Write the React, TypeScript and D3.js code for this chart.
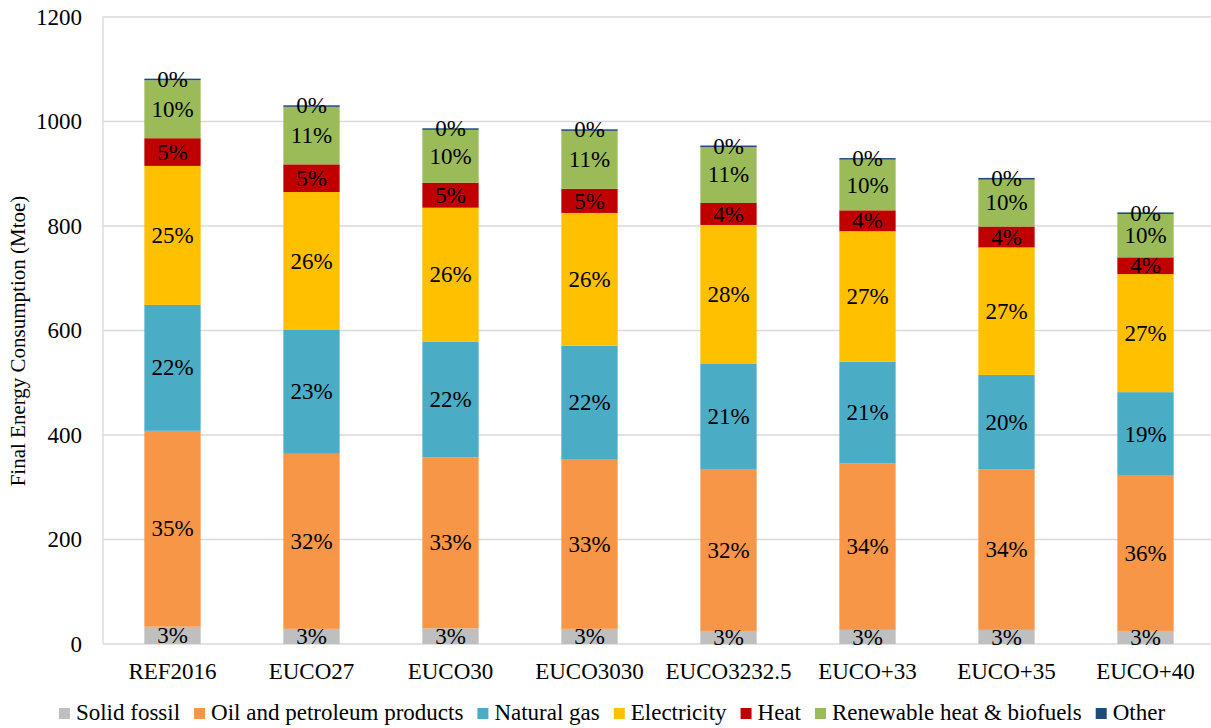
import React from 'react';
import * as d3 from 'd3';

const scenarios = ['REF2016', 'EUCO27', 'EUCO30', 'EUCO3030', 'EUCO3232.5', 'EUCO+33', 'EUCO+35', 'EUCO+40'];
const fuels = ['Solid fossil', 'Oil and petroleum products', 'Natural gas', 'Electricity', 'Heat', 'Renewable heat & biofuels', 'Other'];
const fuelColors = ['#BFBFBF', '#F79646', '#4BACC6', '#FFC000', '#C00000', '#9BBB59', '#1F497D'];

// Mtoe per scenario
const solidFossil = [33, 29, 30, 29, 25, 27, 27, 25];
const oilProducts = [375, 335, 327, 325, 310, 319, 307, 297];
const naturalGas = [241, 237, 222, 217, 202, 194, 181, 160];
const electricity = [266, 264, 256, 254, 265, 250, 244, 226];
const heat = [53, 53, 48, 46, 42, 40, 40, 32];
const renewables = [111, 111, 102, 112, 108, 97, 91, 83];
const other = [3, 2, 2, 2, 2, 3, 2, 3];

const yTicks = [0, 200, 400, 600, 800, 1000, 1200];

const FONT = 'Liberation Serif';
const FS = 23;

const width = 1211, height = 728;
const left = 103, right = 1215, top = 17, bottom = 644;

const measure = (() => {
  let ctx: CanvasRenderingContext2D | null = null;
  return (txt: string, size: number) => {
    if (!ctx) ctx = document.createElement('canvas').getContext('2d');
    if (!ctx) return txt.length * size * 0.45;
    ctx.font = `${size}px "${FONT}"`;
    return ctx.measureText(txt).width;
  };
})();

const App = () => {
  const series = [solidFossil, oilProducts, naturalGas, electricity, heat, renewables, other];
  const rows = scenarios.map((s, i) => {
    const r: any = { scenario: s };
    fuels.forEach((f, j) => { r[f] = series[j][i]; });
    return r;
  });
  const totals = scenarios.map((s, i) => d3.sum(series, (a) => a[i]));
  const stacked = d3.stack().keys(fuels)(rows);

  const x = d3.scaleBand().domain(scenarios).range([left, right]).paddingInner(0.595).paddingOuter(0.2975);
  const y = d3.scaleLinear().domain([0, 1200]).range([bottom, top]);

  // legend layout, centred under the chart
  const sq = 11, gapIn = 6, gapOut = 14;
  const widths = fuels.map((f) => measure(f, FS));
  const total = d3.sum(widths) + fuels.length * (sq + gapIn) + (fuels.length - 1) * gapOut;
  let lx = 612 - total / 2;
  const legendItems = fuels.map((f, i) => {
    const item = { f, i, x: lx };
    lx += sq + gapIn + widths[i] + gapOut;
    return item;
  });

  const txt = { fontFamily: FONT, fontSize: FS + 'px' };

  return (
    <svg width={width} height={height} style={{ position: 'absolute', left: 0, top: 0, background: '#fff', fontFamily: FONT }}>
      {yTicks.map((t) => (
        <line key={'g' + t} x1={left} x2={width} y1={y(t)} y2={y(t)} stroke="#D9D9D9" strokeWidth={1.3} />
      ))}
      <line x1={left} x2={left} y1={top} y2={bottom} stroke="#D9D9D9" strokeWidth={1.3} />
      {yTicks.map((t) => (
        <text key={'t' + t} x={82} y={y(t)} dy="0.33em" textAnchor="end" style={txt} fill="#000">
          {t}
        </text>
      ))}
      <text
        transform={`translate(25,341) rotate(-90)`}
        textAnchor="middle"
        style={{ fontFamily: FONT, fontSize: '21px' }}
        fill="#000"
      >
        Final Energy Consumption (Mtoe)
      </text>

      {stacked.map((layer, li) => (
        <g key={layer.key} fill={fuelColors[li]}>
          {layer.map((d: any) => (
            <rect
              key={d.data.scenario}
              x={x(d.data.scenario)}
              width={x.bandwidth()}
              y={y(d[1])}
              height={Math.max(y(d[0]) - y(d[1]), 1.5)}
            />
          ))}
        </g>
      ))}

      {stacked.map((layer) => (
        <g key={'l' + layer.key}>
          {layer.map((d: any, i) => (
            <text
              key={d.data.scenario}
              x={x(d.data.scenario)! + x.bandwidth() / 2}
              y={y((d[0] + d[1]) / 2)}
              dy="0.33em"
              textAnchor="middle"
              style={txt}
              fill="#000"
            >
              {Math.round(((d[1] - d[0]) / totals[i]) * 100) + '%'}
            </text>
          ))}
        </g>
      ))}

      {scenarios.map((s) => (
        <text key={'c' + s} x={x(s)! + x.bandwidth() / 2} y={679} textAnchor="middle" style={txt} fill="#000">
          {s}
        </text>
      ))}

      {legendItems.map((it) => (
        <g key={'lg' + it.f}>
          <rect x={it.x} y={708} width={sq} height={sq} fill={fuelColors[it.i]} />
          <text x={it.x + sq + gapIn} y={720} style={txt} fill="#000">
            {it.f}
          </text>
        </g>
      ))}
    </svg>
  );
};

export default App;
